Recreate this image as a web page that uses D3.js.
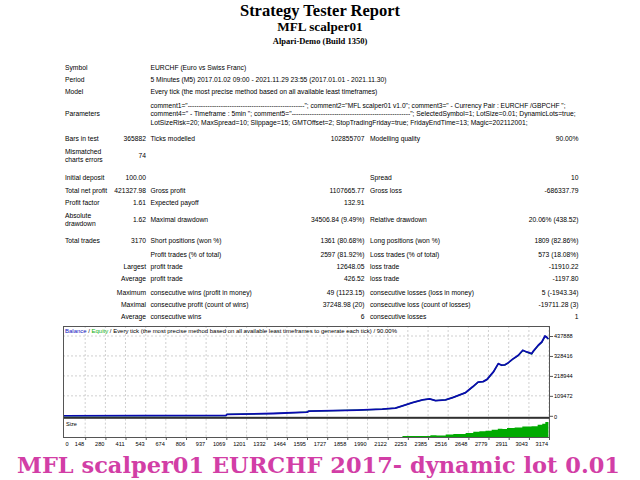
<!DOCTYPE html>
<html><head><meta charset="utf-8">
<script src="https://cdn.jsdelivr.net/npm/d3@7"></script>
<style>html,body{margin:0;padding:0;background:#fff;overflow:hidden}</style>
</head><body><svg id="c" width="640" height="480"></svg>
<script>
// ---------------- DATA ----------------
const titleLines = ["Strategy Tester Report", "MFL scalper01", "Alpari-Demo (Build 1350)"];
const infoLabels = ["Symbol", "Period", "Model", "Parameters"];
const infoValues = [
  "EURCHF (Euro vs Swiss Franc)",
  "5 Minutes (M5) 2017.01.02 09:00 - 2021.11.29 23:55 (2017.01.01 - 2021.11.30)",
  "Every tick (the most precise method based on all available least timeframes)"
];
const paramLines = [
  'comment1="-----------------------------------------------------"; comment2="MFL scalper01 v1.0"; comment3=" - Currency Pair : EURCHF /GBPCHF ";',
  'comment4=" - Timeframe : 5min "; comment5="-----------------------------------------------------"; SelectedSymbol=1; LotSize=0.01; DynamicLots=true;',
  'LotSizeRisk=20; MaxSpread=10; Slippage=15; GMTOffset=2; StopTradingFriday=true; FridayEndTime=13; Magic=202112001;'
];
const statLabels1 = ["Bars in test", "Mismatched\ncharts errors", "Initial deposit", "Total net profit", "Profit factor", "Absolute\ndrawdown", "Total trades", "", "Largest", "Average", "Maximum", "Maximal", "Average"];
const statValues1 = ["365882", "74", "100.00", "421327.98", "1.61", "1.62", "3170", "", "", "", "", "", ""];
const statLabels2 = ["Ticks modelled", "", "", "Gross profit", "Expected payoff", "Maximal drawdown", "Short positions (won %)", "Profit trades (% of total)", "profit trade", "profit trade", "consecutive wins (profit in money)", "consecutive profit (count of wins)", "consecutive wins"];
const statValues2 = ["102855707", "", "", "1107665.77", "132.91", "34506.84 (9.49%)", "1361 (80.68%)", "2597 (81.92%)", "12648.05", "426.52", "49 (1123.15)", "37248.98 (20)", "6"];
const statLabels3 = ["Modelling quality", "", "Spread", "Gross loss", "", "Relative drawdown", "Long positions (won %)", "Loss trades (% of total)", "loss trade", "loss trade", "consecutive losses (loss in money)", "consecutive loss (count of losses)", "consecutive losses"];
const statValues3 = ["90.00%", "", "10", "-686337.79", "", "20.06% (438.52)", "1809 (82.86%)", "573 (18.08%)", "-11910.22", "-1197.80", "5 (-1943.34)", "-19711.28 (3)", "1"];

const xTickLabels = [0, 148, 280, 411, 543, 674, 806, 937, 1069, 1201, 1332, 1464, 1595, 1727, 1858, 1990, 2122, 2253, 2385, 2516, 2648, 2779, 2911, 3043, 3174];
const yTickLabels = [0, 109472, 218944, 328416, 437888];

const balanceTrades = [0, 1067, 1073, 1373, 1595, 1608, 1923, 2087, 2172, 2218, 2283, 2349, 2395, 2434, 2499, 2545, 2630, 2678, 2711, 2744, 2770, 2811, 2843, 2866, 2887, 2909, 2941, 2974, 3003, 3029, 3061, 3072, 3104, 3127, 3148, 3158, 3170];
const balanceValues = [100, 1600, 8000, 12600, 20000, 25700, 31200, 36700, 42100, 54700, 72800, 87600, 93000, 83700, 87600, 100200, 127500, 160400, 185000, 187700, 200000, 240800, 286300, 277500, 280000, 291700, 313600, 332200, 359600, 350300, 341000, 355000, 387000, 405000, 437900, 432000, 421428];
const equityValues  = [100, 1500, 7900, 12500, 19900, 25600, 31100, 36600, 42000, 54500, 72500, 87300, 92500, 83200, 87300, 99800, 127000, 159800, 184300, 187000, 199200, 239800, 285300, 276300, 279000, 290600, 312400, 331000, 358200, 349000, 339600, 353800, 385600, 403500, 436200, 430500, 421428];

const sizeTrades = [0, 1070, 1600, 1920, 2072, 2150, 2218, 2300, 2400, 2440, 2500, 2550, 2630, 2680, 2720, 2760, 2800, 2840, 2870, 2900, 2950, 3000, 3030, 3060, 3100, 3130, 3150, 3170];
const sizeValues = [0.1, 0.5, 1, 2, 3, 5, 10, 11, 14, 13, 18, 21, 26, 33, 36, 38, 43, 49, 47, 52, 55, 61, 60, 62, 70, 75, 84, 88];

const legendParts = [["Balance", "#1010c0"], [" / ", "#000"], ["Equity", "#10b010"], [" / Every tick (the most precise method based on all available least timeframes to generate each tick) / 90.00%", "#000"]];
const footerText = "MFL scalper01  EURCHF 2017- dynamic lot 0.01";

// ---------------- LAYOUT ----------------
const svg = d3.select("#c");
const SANS = "'Liberation Sans', Arial, sans-serif";
const SERIF = "'Liberation Serif', 'Times New Roman', serif";
const FS = 6.6;

// titles
const titleSizes = [16.5, 13.2, 8.5], titleY = [15.5, 31, 44];
titleLines.forEach((s, i) => svg.append("text").attr("x", 320).attr("y", titleY[i])
  .attr("text-anchor", "middle").attr("font-family", SERIF).attr("font-weight", "bold")
  .attr("font-size", titleSizes[i]).attr("fill", "#000").text(s));

// measure horizontal squeeze for table text
const probe = svg.append("text").attr("font-family", SANS).attr("font-size", FS).text(infoValues[2]);
const sx = 227 / probe.node().getComputedTextLength();
probe.remove();

function t(x, yc, s, anchor) {
  if (!s) return;
  svg.append("text").attr("transform", `translate(${x},${yc + 2.3}) scale(${sx},1)`)
    .attr("text-anchor", anchor || "start").attr("font-family", SANS).attr("font-size", FS)
    .attr("fill", "#000").text(s);
}
function tMulti(x, yc, s, anchor) {
  const parts = s.split("\n");
  if (parts.length === 1) return t(x, yc, s, anchor);
  t(x, yc - 4.4, parts[0], anchor);
  t(x, yc + 4.4, parts[1], anchor);
}

const C1 = 65, C1R = 146, C2 = 150.5, C2R = 364.5, C3 = 370, C3R = 578.5;
const infoY = [67.7, 80, 92, 113.7];
infoLabels.forEach((s, i) => t(C1, infoY[i], s));
infoValues.forEach((s, i) => t(C2, infoY[i], s));
const paramY = [105.6, 113.9, 122.2], paramW = [415, 425, 377];
paramLines.forEach((s, i) => svg.append("text").attr("x", C2).attr("y", paramY[i] + 2.3)
  .attr("font-family", SANS).attr("font-size", FS).attr("fill", "#000")
  .attr("textLength", paramW[i]).attr("lengthAdjust", "spacingAndGlyphs").text(s));

const rowY = [138.3, 155.7, 177.3, 190.3, 202.3, 219.7, 241, 254.3, 267, 279, 292.3, 304.3, 317];
rowY.forEach((yc, i) => {
  tMulti(i >= 8 ? C1R : C1, yc, statLabels1[i], i >= 8 ? "end" : "start");
  t(C1R, yc, statValues1[i], "end");
  t(C2, yc, statLabels2[i]);
  t(C2R, yc, statValues2[i], "end");
  t(C3, yc, statLabels3[i]);
  t(C3R, yc, statValues3[i], "end");
});

// ---------------- CHART ----------------
const X0 = 63, X1 = 550, TOP = 326, MAINB = 416.8, SEPY = 417.8, SZTOP = 418.6, BOT = 438;
const x = d3.scaleLinear().domain([0, 3174]).range([62.5, 549]);
const y = d3.scaleLinear().domain([0, 437888]).range([415.8, 336]);
const ys = d3.scaleLinear().domain([0, 100]).range([BOT, SZTOP + 0.4]);

const defs = svg.append("defs");
defs.append("clipPath").attr("id", "cm").append("rect").attr("x", X0).attr("y", TOP).attr("width", X1 - X0).attr("height", MAINB - TOP);
defs.append("clipPath").attr("id", "cs").append("rect").attr("x", X0).attr("y", SZTOP).attr("width", X1 - X0).attr("height", BOT - SZTOP);

const grid = svg.append("g").attr("stroke", "#c4c4c4").attr("stroke-width", 0.8).attr("stroke-dasharray", "2,2");
xTickLabels.slice(1).forEach(v => {
  grid.append("line").attr("x1", x(v)).attr("x2", x(v)).attr("y1", TOP).attr("y2", MAINB);
  grid.append("line").attr("x1", x(v)).attr("x2", x(v)).attr("y1", SZTOP).attr("y2", BOT);
});
yTickLabels.slice(1).forEach(v => grid.append("line").attr("x1", X0).attr("x2", X1).attr("y1", y(v)).attr("y2", y(v)));

// size area
svg.append("path").attr("clip-path", "url(#cs)")
  .datum(sizeTrades.map((tr, i) => [tr, sizeValues[i]]))
  .attr("fill", "#00aa00")
  .attr("d", d3.area().x(d => x(d[0])).y0(BOT).y1(d => ys(d[1])).curve(d3.curveStepAfter));

// separator
svg.append("rect").attr("x", X0).attr("y", SEPY - 1).attr("width", X1 - X0).attr("height", 2).attr("fill", "#303030");

// equity & balance
const lineGen = d3.line().x(d => x(d[0])).y(d => y(d[1]));
svg.append("path").attr("clip-path", "url(#cm)")
  .datum(balanceTrades.map((tr, i) => [tr, equityValues[i]]))
  .attr("fill", "none").attr("stroke", "#00b000").attr("stroke-width", 1.2).attr("d", lineGen);
svg.append("path").attr("clip-path", "url(#cm)")
  .datum(balanceTrades.map((tr, i) => [tr, balanceValues[i]]))
  .attr("fill", "none").attr("stroke", "#0a0ab0").attr("stroke-width", 1.8)
  .attr("stroke-linejoin", "round").attr("d", lineGen);

// border
svg.append("rect").attr("x", X0 + 0.5).attr("y", TOP + 0.5).attr("width", X1 - X0 - 1).attr("height", BOT - TOP - 1)
  .attr("fill", "none").attr("stroke", "#555").attr("stroke-width", 1);

// axes
const yAxis = svg.append("g").attr("transform", `translate(${X1},0)`)
  .call(d3.axisRight(y).tickValues(yTickLabels).tickFormat(d3.format("d")).tickSize(3).tickPadding(1));
yAxis.select(".domain").remove();
yAxis.selectAll("text").attr("font-family", SANS).attr("font-size", 5.6).attr("fill", "#000")
  .attr("transform", (d) => d === 0 ? "translate(0,1)" : null);
yAxis.selectAll("line").attr("stroke", "#555");

const xAxis = svg.append("g").attr("transform", `translate(0,${BOT})`)
  .call(d3.axisBottom(x).tickValues(xTickLabels).tickFormat(d3.format("d")).tickSize(2).tickPadding(2));
xAxis.select(".domain").remove();
xAxis.selectAll("line").attr("stroke", "#555");
xAxis.selectAll("text").attr("font-family", SANS).attr("font-size", 5.6).attr("fill", "#000")
  .attr("text-anchor", (d, i) => i === 0 ? "start" : "end")
  .attr("x", (d, i) => i === 0 ? X0 + 2 - x(0) : -1.5);
xAxis.selectAll(".tick").filter(d => d === 0).select("line").remove();

// legend
const leg = svg.append("text").attr("x", 65).attr("y", 333.3).attr("font-family", SANS).attr("font-size", 5.6)
  .attr("textLength", 332).attr("lengthAdjust", "spacingAndGlyphs");
legendParts.forEach(p => leg.append("tspan").attr("fill", p[1]).text(p[0]));

// size label
svg.append("text").attr("x", 66).attr("y", 425.5).attr("font-family", SANS).attr("font-size", 5.6).attr("fill", "#000").text("Size");

// footer
svg.append("text").attr("x", 17).attr("y", 473).attr("font-family", "'DejaVu Serif', serif").attr("font-weight", "bold")
  .attr("font-size", 22).attr("fill", "#d23ea6").attr("textLength", 603).attr("lengthAdjust", "spacingAndGlyphs")
  .text(footerText);
</script></body></html>
